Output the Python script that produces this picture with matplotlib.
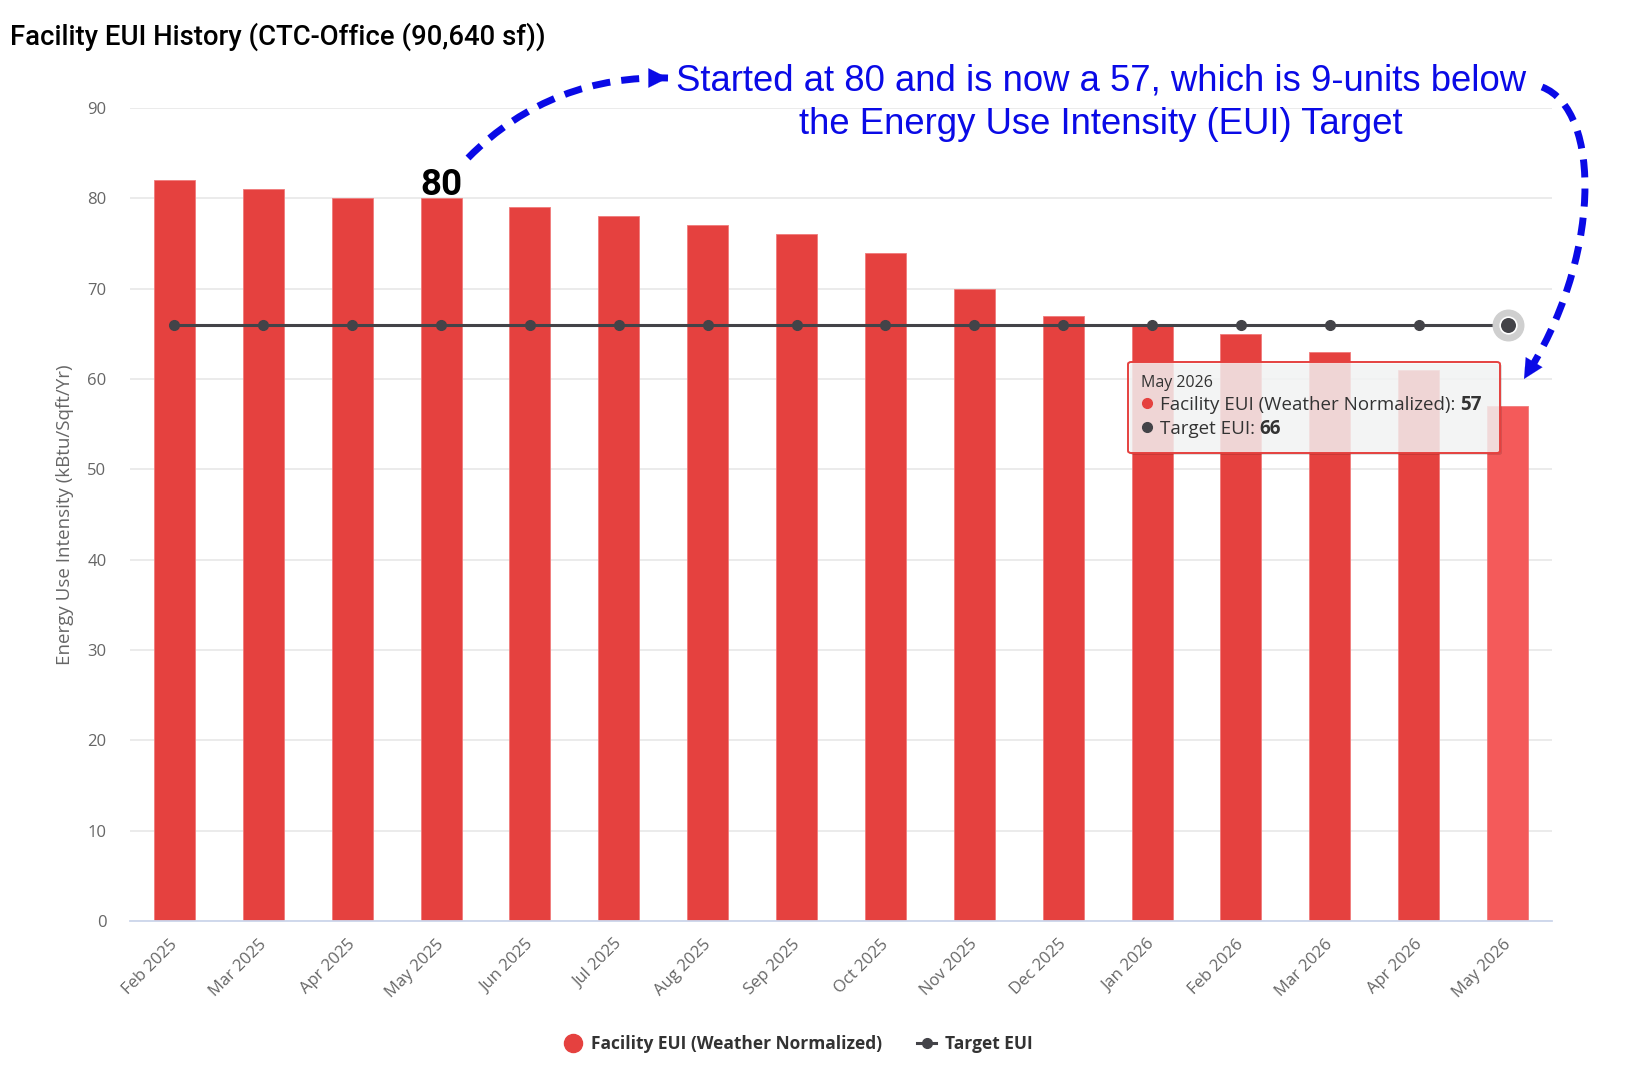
import matplotlib
matplotlib.use("Agg")
import matplotlib.pyplot as plt
import numpy as np
from matplotlib.patches import FancyBboxPatch, PathPatch, FancyArrowPatch
from matplotlib.path import Path
from matplotlib.lines import Line2D
import matplotlib.transforms as mtransforms

# ---------------- data ----------------
months = ["Feb 2025", "Mar 2025", "Apr 2025", "May 2025", "Jun 2025", "Jul 2025",
          "Aug 2025", "Sep 2025", "Oct 2025", "Nov 2025", "Dec 2025", "Jan 2026",
          "Feb 2026", "Mar 2026", "Apr 2026", "May 2026"]
facility_eui = [82, 81, 80, 80, 79, 78, 77, 76, 74, 70, 67, 66, 65, 63, 61, 57]
target_eui = [66] * 16
y_ticks = [0, 10, 20, 30, 40, 50, 60, 70, 80, 90]

title = "Facility EUI History (CTC-Office (90,640 sf))"
y_label = "Energy Use Intensity (kBtu/Sqft/Yr)"
series_names = ["Facility EUI (Weather Normalized)", "Target EUI"]
note_text = "Started at 80 and is now a 57, which is 9-units below\nthe Energy Use Intensity (EUI) Target"
start_idx = 3      # May 2025 label "80"
hover_idx = 15     # May 2026 (tooltip)

# ---------------- style ----------------
RED = "#e5413f"
RED_HOVER = "#f45a5a"
DARK = "#434348"
TICK_C = "#666666"
TXT_C = "#333333"
BLUE = "#0a0ae6"

W, H = 1630, 1068
fig = plt.figure(figsize=(W / 100, H / 100), dpi=100)
fig.patch.set_facecolor("white")

def fx(px):
    return px / W

def fy(py):
    return 1 - py / H

ax_left, ax_right, ax_top, ax_bot = 130, 1552, 108, 921
ax = fig.add_axes([fx(ax_left), fy(ax_bot), (ax_right - ax_left) / W, (ax_bot - ax_top) / H])
ax.set_facecolor("white")

x = np.arange(len(months))
colors = [RED_HOVER if i == hover_idx else RED for i in range(len(months))]
ax.bar(x, facility_eui, width=0.46, color=colors, edgecolor="#f07b7b", linewidth=0.6, zorder=2)

ax.plot(x, target_eui, color=DARK, lw=2.2, marker="o", ms=7, markerfacecolor=DARK,
        markeredgecolor=DARK, zorder=4)
ax.plot(x[hover_idx], target_eui[hover_idx], "o", ms=22, color="#cfcfcf", zorder=4.5)
ax.plot(x[hover_idx], target_eui[hover_idx], "o", ms=12, color=DARK,
        markeredgecolor="white", markeredgewidth=1.2, zorder=4.6)

ax.set_xlim(-0.5, len(months) - 0.5)
ax.set_ylim(0, 90)
ax.set_yticks(y_ticks)
ax.set_yticklabels([str(v) for v in y_ticks], fontfamily="Open Sans", fontsize=12, color=TICK_C)
ax.grid(axis="y", color="#e6e6e6", lw=1.1, zorder=0)
ax.set_axisbelow(True)
for s in ["top", "right", "left"]:
    ax.spines[s].set_visible(False)
ax.spines["bottom"].set_color("#ccd6eb")
ax.spines["bottom"].set_linewidth(1.3)
ax.tick_params(axis="y", length=0, pad=17)
ax.tick_params(axis="x", length=0, pad=11)
ax.set_xticks(x)
ax.set_xticklabels(months, rotation=45, ha="right", va="top", rotation_mode="anchor",
                   fontfamily="Open Sans", fontsize=12, color=TICK_C)
offset = mtransforms.ScaledTranslation(-5 / 100, 0, fig.dpi_scale_trans)
for lab in ax.get_xticklabels():
    lab.set_transform(lab.get_transform() + offset)

# y axis title
fig.text(fx(65), fy(515), y_label, fontfamily="Open Sans", fontsize=13.5, color=TICK_C,
         rotation=90, ha="center", va="center")

# title
fig.text(fx(10), fy(37), title, fontfamily="Roboto", fontweight="medium", fontsize=19.8,
         color="black", ha="left", va="center")

# "80" label above start bar
ax.annotate(str(facility_eui[start_idx]), (x[start_idx], facility_eui[start_idx]),
            xytext=(0, -3.5), textcoords="offset points", ha="center", va="bottom",
            fontfamily="Roboto", fontweight="bold", fontsize=26.5, color="black", zorder=6)

# blue note
fig.text(fx(1101), fy(103), note_text, fontfamily="Liberation Sans", fontsize=26.3,
         color=BLUE, ha="center", va="center", linespacing=1.33)

# dashed arrows
def dashed_arrow(pts, head_dir_from):
    verts = [(fx(a), fy(b)) for a, b in pts]
    path = Path(verts, [Path.MOVETO, Path.CURVE4, Path.CURVE4, Path.CURVE4])
    pp = PathPatch(path, transform=fig.transFigure, fill=False, edgecolor=BLUE,
                   lw=5, linestyle=(0, (2.6, 1.6)), capstyle="butt", zorder=10)
    fig.patches.append(pp)
    end = pts[-1]
    hf = head_dir_from
    arr = FancyArrowPatch((fx(hf[0]), fy(hf[1])), (fx(end[0]), fy(end[1])),
                          transform=fig.transFigure,
                          arrowstyle="-|>,head_length=14,head_width=7",
                          mutation_scale=1, color=BLUE, lw=0.1,
                          shrinkA=0, shrinkB=0, zorder=11)
    fig.patches.append(arr)

dashed_arrow([(468, 158), (525, 100), (595, 76), (668, 78)], (666, 78))
dashed_arrow([(1542, 87), (1602, 110), (1602, 260), (1524, 379)], (1525.5, 376.5))

# tooltip
tb_l, tb_r, tb_t, tb_b = 1128, 1500, 362, 453
shadow = FancyBboxPatch((fx(tb_l + 2), fy(tb_b + 2)), fx(tb_r - tb_l), (tb_b - tb_t) / H,
                        boxstyle="round,pad=0,rounding_size=0.002", transform=fig.transFigure,
                        facecolor="black", edgecolor="none", alpha=0.12, zorder=7)
fig.patches.append(shadow)
tip = FancyBboxPatch((fx(tb_l), fy(tb_b)), fx(tb_r - tb_l), (tb_b - tb_t) / H,
                     boxstyle="round,pad=0,rounding_size=0.002", transform=fig.transFigure,
                     facecolor=(0.972, 0.976, 0.976, 0.82), edgecolor=RED, lw=1.4, zorder=8)
fig.patches.append(tip)

fig.text(fx(1141), fy(383), months[hover_idx], fontfamily="Open Sans", fontsize=11.5,
         color=TXT_C, ha="left", va="center", zorder=9)
rows = [(RED, series_names[0], facility_eui[hover_idx], 403),
        (DARK, series_names[1], target_eui[hover_idx], 427)]
renderer = fig.canvas.get_renderer()
for col, name, val, yy in rows:
    fig.lines.append(Line2D([fx(1147)], [fy(yy)], marker="o", ms=7, color=col,
                            transform=fig.transFigure, zorder=9))
    t = fig.text(fx(1160), fy(yy), name + ": ", fontfamily="Open Sans", fontsize=13.5,
                 color=TXT_C, ha="left", va="center_baseline", zorder=9)
    bb = t.get_window_extent(renderer)
    fig.text(bb.x1 / W, fy(yy), str(val), fontfamily="Open Sans", fontweight="bold",
             fontsize=13.5, color=TXT_C, ha="left", va="center_baseline", zorder=9)

# legend
handles = [Line2D([], [], marker="o", linestyle="None", markersize=13,
                  markerfacecolor=RED, markeredgecolor=RED),
           Line2D([], [], color=DARK, lw=2.2, marker="o", markersize=7)]
leg = fig.legend(handles, series_names, loc="center", bbox_to_anchor=(fx(798), fy(1044)),
                 ncol=2, frameon=False, handlelength=1.1, handletextpad=0.5,
                 columnspacing=2.0,
                 prop={"family": "Open Sans", "weight": "bold", "size": 12.5})
for t in leg.get_texts():
    t.set_color(TXT_C)

fig.savefig("out.png", dpi=100, facecolor="white")
